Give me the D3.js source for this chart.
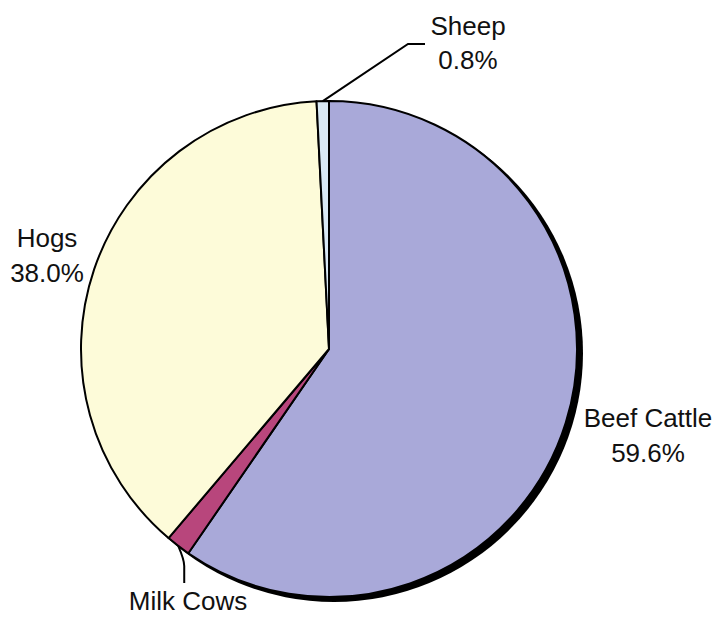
<!DOCTYPE html>
<html>
<head>
<meta charset="utf-8">
<script src="https://cdn.jsdelivr.net/npm/d3@7"></script>
<style>
  body { margin: 0; background: #fff; }
  text { font-family: "Liberation Sans", Arial, sans-serif; fill: #111; }
</style>
</head>
<body>
<div id="chart"></div>
<script>
var width = 717;
var height = 620;
var cx = 329, cy = 349, radius = 248;

// slices, clockwise from 12 o'clock
var categories = ["Beef Cattle", "Milk Cows", "Hogs", "Sheep"];
var shares = [59.6, 1.6, 38.0, 0.8];
var colors = ["#a9a9d9", "#b8467c", "#fdfbd9", "#d9e9f5"];

var svg = d3.select("#chart").append("svg")
    .attr("width", width)
    .attr("height", height);

var data = categories.map((c, i) => ({name: c, value: shares[i], color: colors[i]}));

var pie = d3.pie().sort(null).value(d => d.value);
var arc = d3.arc().innerRadius(0).outerRadius(radius);
var arcs = pie(data);

var g = svg.append("g").attr("transform", "translate(" + cx + "," + cy + ")");

// drop shadow behind the pie
g.append("circle")
    .attr("cx", 5).attr("cy", 4).attr("r", radius + 1)
    .attr("fill", "#000");

g.selectAll("path.slice")
    .data(arcs).enter().append("path")
    .attr("class", "slice")
    .attr("d", arc)
    .attr("fill", d => d.data.color)
    .attr("stroke", "#000")
    .attr("stroke-width", 2)
    .attr("stroke-linejoin", "round");

// labels: [name, pct, x, y1, y2]
var labels = [
    ["Sheep", "0.8%", 468, 35, 69],
    ["Beef Cattle", "59.6%", 648, 427, 462],
    ["Hogs", "38.0%", 47, 247, 282]
];
var fontSize = 26;
labels.forEach(l => {
    var t = svg.append("text").attr("text-anchor", "middle").attr("font-size", fontSize);
    t.append("tspan").attr("x", l[2]).attr("y", l[3]).text(l[0]);
    t.append("tspan").attr("x", l[2]).attr("y", l[4]).text(l[1]);
});
svg.append("text").attr("text-anchor", "middle").attr("font-size", fontSize)
    .attr("x", 188).attr("y", 610).text("Milk Cows");

// leader lines from the small slices
function edgePoint(d) {
    var a = (d.startAngle + d.endAngle) / 2;
    return [cx + Math.sin(a) * radius, cy - Math.cos(a) * radius];
}
var sheepPt = edgePoint(arcs[3]);
var milkPt = edgePoint(arcs[1]);
var line = d3.line();
svg.append("path")
    .attr("d", line([sheepPt, [408, 44], [425, 44]]))
    .attr("fill", "none").attr("stroke", "#000").attr("stroke-width", 2);
svg.append("path")
    .attr("d", "M" + milkPt[0] + "," + milkPt[1] + " Q" + (milkPt[0] + 6) + "," + (milkPt[1] + 14) + " " + (milkPt[0] + 6) + "," + (milkPt[1] + 20) + " L" + (milkPt[0] + 6) + "," + 583)
    .attr("fill", "none").attr("stroke", "#000").attr("stroke-width", 2);
</script>
</body>
</html>
